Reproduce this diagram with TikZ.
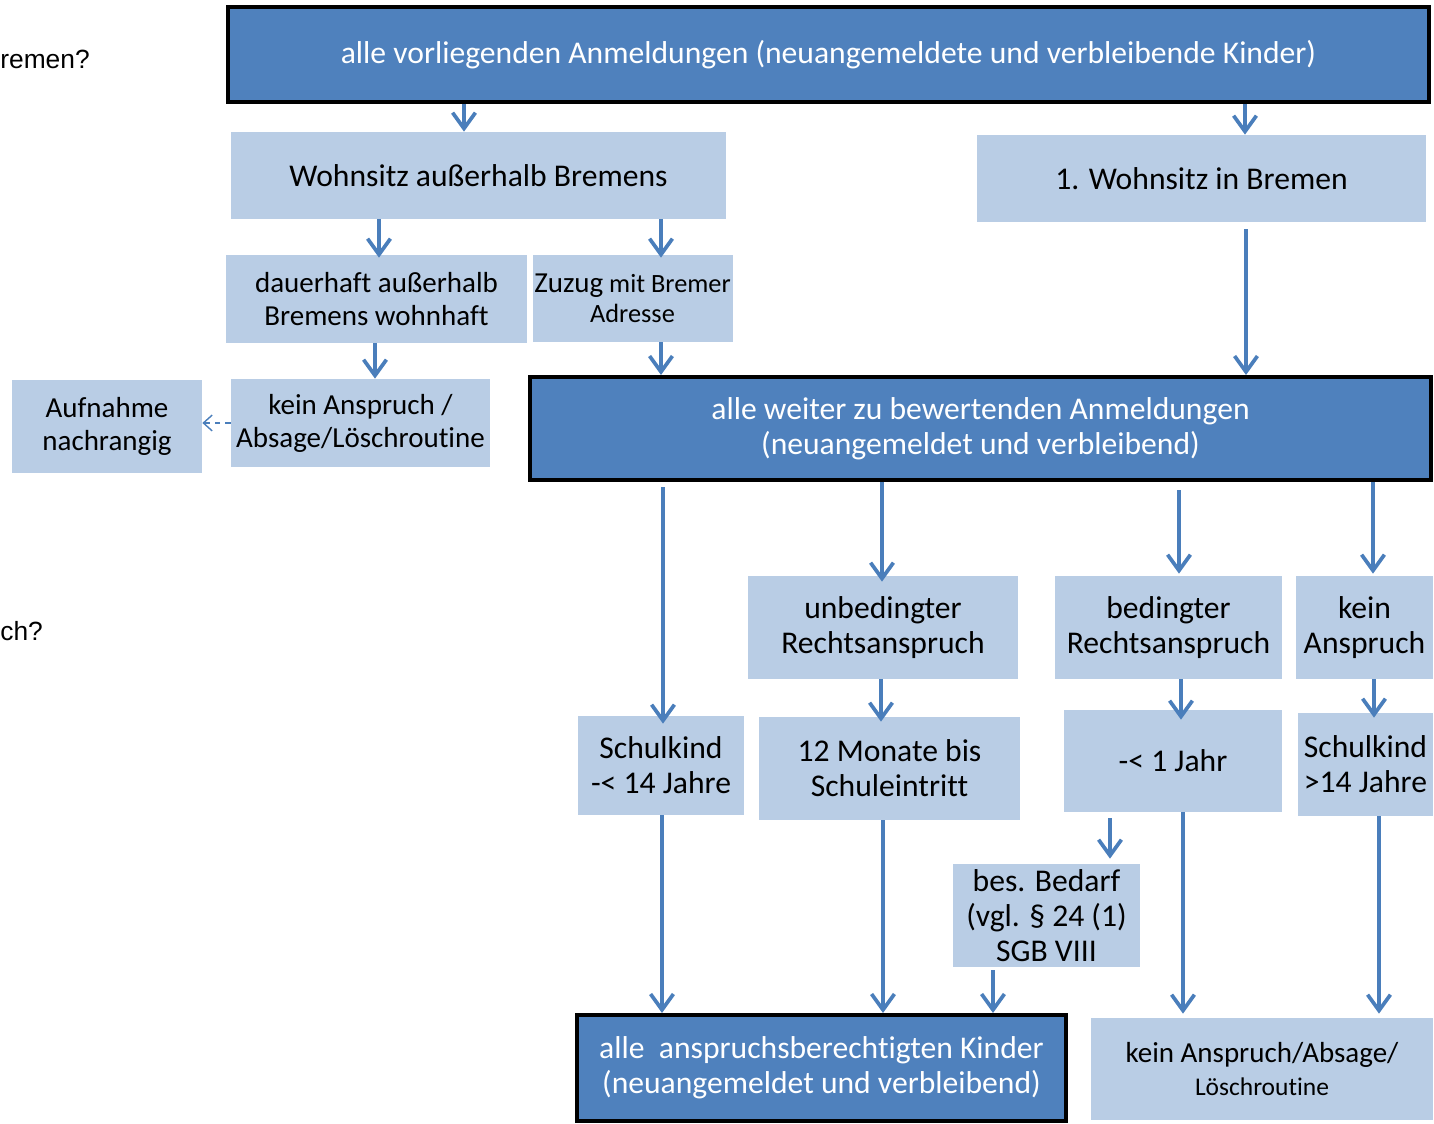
\documentclass[tikz,border=0pt]{standalone}
\usepackage{fontspec}
\setmainfont{Carlito}[Ligatures=NoCommon]
\newfontfamily\arialfont{Liberation Sans}
\usetikzlibrary{arrows.meta}
\definecolor{dunkelblau}{HTML}{4F81BD}
\definecolor{hellblau}{HTML}{B9CDE5}
\definecolor{pfeilblau}{HTML}{4A7EBB}
\begin{document}
\begin{tikzpicture}[
    x=0.02cm, y=-0.02cm,
    hauptbox/.style={rectangle, draw=black, line width=2.3pt, fill=dunkelblau, text=white, align=center, inner sep=1pt, font=\fontsize{18}{20}\selectfont},
    teilbox/.style={rectangle, fill=hellblau, align=center, inner sep=1pt, font=\fontsize{18}{20}\selectfont},
    kleinbox/.style={teilbox, font=\fontsize{16.5}{18.8}\selectfont},
    pfeil/.style={draw=pfeilblau, line width=2.1pt, -{Straight Barb[length=9pt,width=13pt,line width=2.1pt]}},
    hinweis/.style={draw=pfeilblau, line width=0.8pt, dashed, -{Straight Barb[length=5pt,width=9pt,line width=0.8pt]}}
  ]
    \useasboundingbox (0,0) rectangle (1434,1124);

    % Randtexte
    \node[anchor=west, inner sep=0pt, font=\arialfont\fontsize{15}{18}\selectfont] (frage1) at (0,59) {remen?};
    \node[anchor=west, inner sep=0pt, font=\arialfont\fontsize{15}{18}\selectfont] (frage2) at (0,631) {ch?};

    % Anmeldungen
    \node[hauptbox, minimum width=24.02cm, minimum height=1.9cm] (alle) at (828.5,54.5) {alle vorliegenden Anmeldungen (neuangemeldete und verbleibende Kinder)};
    \node[teilbox, minimum width=9.9cm, minimum height=1.74cm] (ausserhalb) at (478.5,175.5) {Wohnsitz außerhalb Bremens};
    \node[teilbox, minimum width=8.98cm, minimum height=1.74cm] (inbremen) at (1201.5,178.5) {1. Wohnsitz in Bremen};
    \node[kleinbox, minimum width=6.02cm, minimum height=1.76cm] (dauerhaft) at (376.5,299) {dauerhaft außerhalb\\Bremens wohnhaft};
    \node[teilbox, minimum width=3.98cm, minimum height=1.74cm, font=\fontsize{15}{17}\selectfont] (zuzug) at (632.5,298.5) {{\fontsize{16.5}{17}\selectfont Zuzug} mit Bremer\\Adresse};
    \node[kleinbox, minimum width=5.18cm, minimum height=1.76cm] (absage) at (360.5,423) {kein Anspruch /\\Absage/Löschroutine};
    \node[kleinbox, minimum width=3.8cm, minimum height=1.86cm] (nachrangig) at (107,426.5) {Aufnahme\\nachrangig};
    \node[hauptbox, minimum width=18.02cm, minimum height=2.06cm] (weiter) at (980.5,428.5) {alle weiter zu bewertenden Anmeldungen\\(neuangemeldet und verbleibend)};

    % Rechtsanspruch
    \node[teilbox, minimum width=5.4cm, minimum height=2.06cm] (unbedingt) at (883,627.5) {unbedingter\\Rechtsanspruch};
    \node[teilbox, minimum width=4.54cm, minimum height=2.06cm] (bedingt) at (1168.5,627.5) {bedingter\\Rechtsanspruch};
    \node[teilbox, minimum width=2.74cm, minimum height=2.06cm] (keiner) at (1364.5,627.5) {kein\\Anspruch};
    \node[teilbox, minimum width=3.32cm, minimum height=1.98cm] (schulklein) at (661,765.5) {Schulkind\\-< 14 Jahre};
    \node[teilbox, minimum width=5.22cm, minimum height=2.06cm] (monate) at (889.5,768.5) {12 Monate bis\\Schuleintritt};
    \node[teilbox, minimum width=4.36cm, minimum height=2.04cm] (jahr) at (1173,761) {-< 1 Jahr};
    \node[teilbox, minimum width=2.7cm, minimum height=2.06cm] (schulgross) at (1365.5,764.5) {Schulkind\\>14 Jahre};
    \node[teilbox, minimum width=3.74cm, minimum height=2.06cm] (bedarf) at (1046.5,915.5) {bes. Bedarf\\(vgl. § 24 (1)\\SGB VIII};

    % Ergebnis
    \node[hauptbox, minimum width=9.78cm, minimum height=2.12cm] (berechtigt) at (821.5,1068) {alle\ \ anspruchsberechtigten Kinder\\(neuangemeldet und verbleibend)};
    \node[teilbox, minimum width=6.84cm, minimum height=2.04cm, font=\fontsize{16.5}{18.5}\selectfont] (loeschen) at (1262,1069) {kein Anspruch/Absage/\\{\fontsize{14.5}{18.5}\selectfont Löschroutine}};

    % Pfeile
    \draw[pfeil] (464,0 |- alle.south) -- (464,0 |- ausserhalb.north);
    \draw[pfeil] (1245,0 |- alle.south) -- (1245,0 |- inbremen.north);
    \draw[pfeil, shorten >=-0.06cm] (379,0 |- ausserhalb.south) -- (379,0 |- dauerhaft.north);
    \draw[pfeil, shorten >=-0.06cm] (661,0 |- ausserhalb.south) -- (661,0 |- zuzug.north);
    \draw[pfeil] (375,0 |- dauerhaft.south) -- (375,0 |- absage.north);
    \draw[pfeil] (661,0 |- zuzug.south) -- (661,0 |- weiter.north);
    \draw[pfeil, shorten <=0.14cm] (1246,0 |- inbremen.south) -- (1246,0 |- weiter.north);
    \draw[hinweis] (absage.west) -- (absage.west -| nachrangig.east);
    \draw[pfeil, shorten <=0.1cm, shorten >=-0.16cm] (663,0 |- weiter.south) -- (663,0 |- schulklein.north);
    \draw[pfeil, shorten >=-0.12cm] (882,0 |- weiter.south) -- (882,0 |- unbedingt.north);
    \draw[pfeil, shorten <=0.16cm, shorten >=0.04cm] (1179,0 |- weiter.south) -- (1179,0 |- bedingt.north);
    \draw[pfeil, shorten >=0.04cm] (1373,0 |- weiter.south) -- (1373,0 |- keiner.north);
    \draw[pfeil, shorten >=-0.1cm] (881,0 |- unbedingt.south) -- (881,0 |- monate.north);
    \draw[pfeil, shorten >=-0.2cm] (1181,0 |- bedingt.south) -- (1181,0 |- jahr.north);
    \draw[pfeil, shorten >=-0.1cm] (1374,0 |- keiner.south) -- (1374,0 |- schulgross.north);
    \draw[pfeil, shorten <=0.12cm, shorten >=0.1cm] (1110,0 |- jahr.south) -- (1110,0 |- bedarf.north);
    \draw[pfeil] (662,0 |- schulklein.south) -- (662,0 |- berechtigt.north);
    \draw[pfeil] (883,0 |- monate.south) -- (883,0 |- berechtigt.north);
    \draw[pfeil, shorten <=0.06cm] (993,0 |- bedarf.south) -- (993,0 |- berechtigt.north);
    \draw[pfeil, shorten >=0.08cm] (1183,0 |- jahr.south) -- (1183,0 |- loeschen.north);
    \draw[pfeil, shorten >=0.08cm] (1379,0 |- schulgross.south) -- (1379,0 |- loeschen.north);
\end{tikzpicture}
\end{document}
